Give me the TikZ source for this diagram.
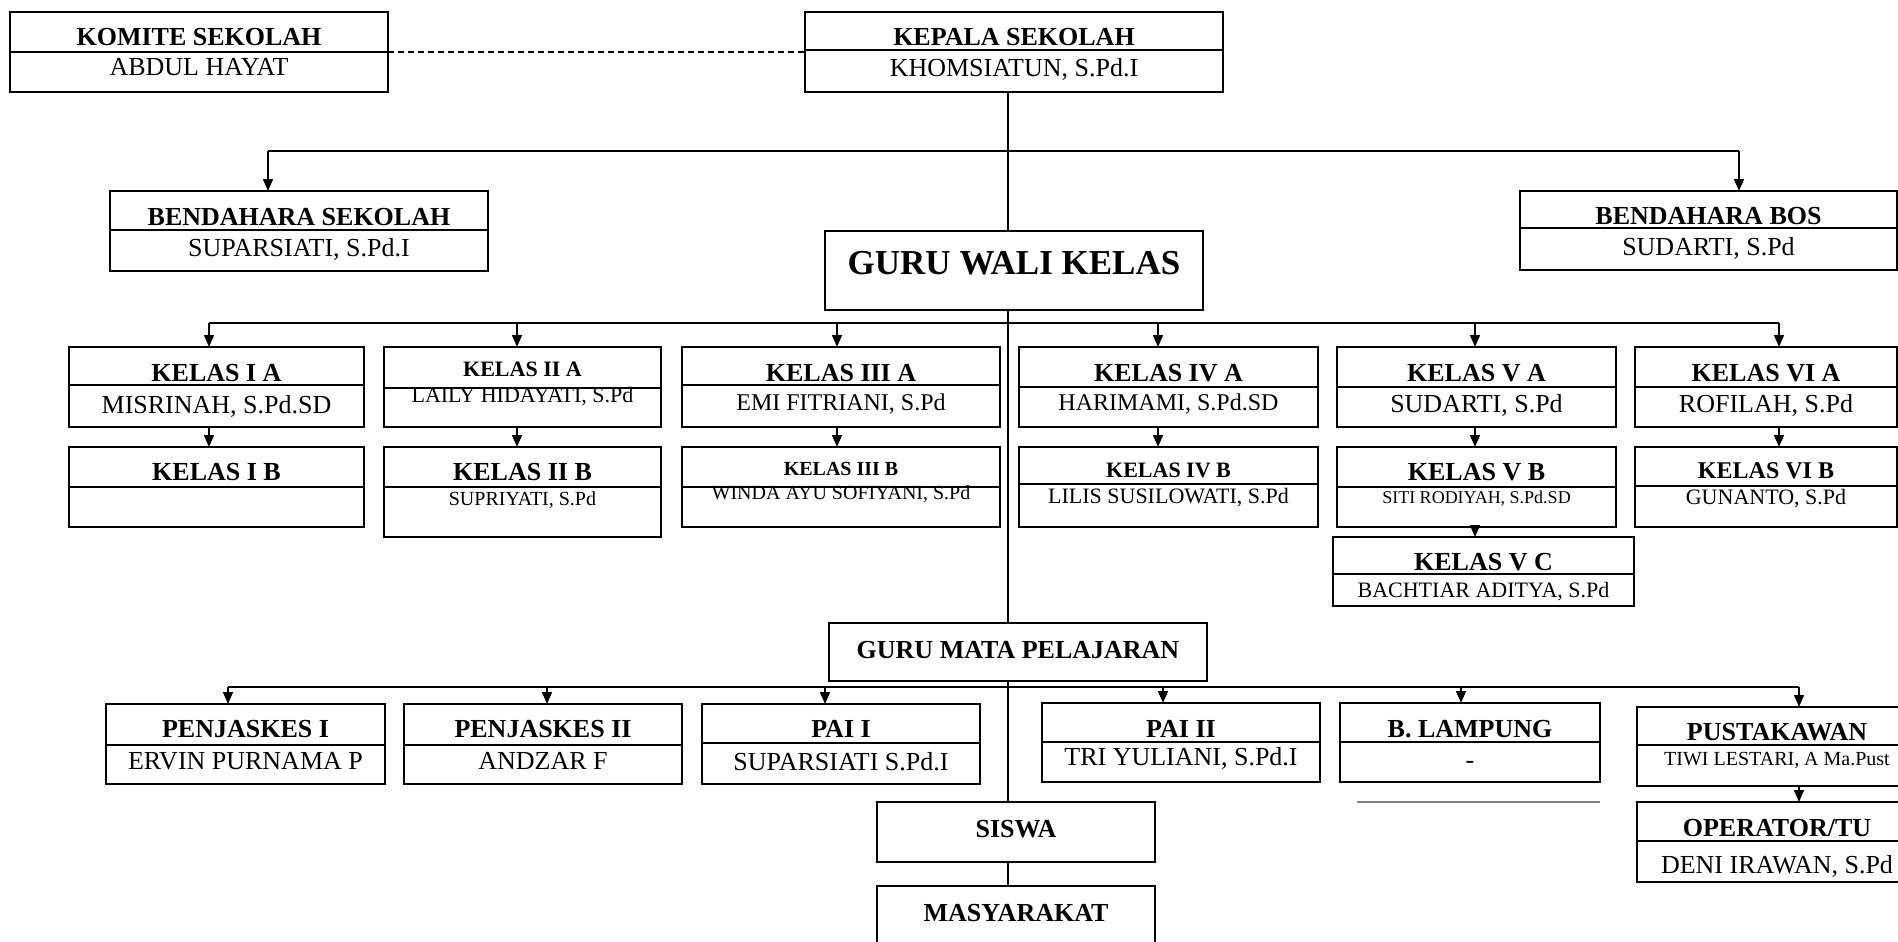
\documentclass[tikz,border=0pt]{standalone}
\usepackage{fontspec}
\setmainfont{Liberation Serif}
\usetikzlibrary{arrows.meta, positioning, fit, calc}

\begin{document}
\begin{tikzpicture}[
  x=1pt, y=-1pt,
  garis/.style={draw=black, line width=1.6pt},
  panah/.style={garis, -{Triangle[length=12pt, width=10pt]}},
  kotak/.style={garis, inner sep=0pt, outer sep=0pt},
  judul/.style={anchor=base, inner sep=0pt},
  nama/.style={anchor=base, inner sep=0pt}
]
\useasboundingbox (0,0) rectangle (1898,942);
\clip (0,0) rectangle (1898,942);

% kotak jabatan: judul di atas garis, nama di bawah
\foreach \id/\xa/\ya/\xb/\yb/\yd/\tb/\nb/\fj/\fn/\jd/\nm in {
  komite/10/12/388/92/52/46/76/26/26/{KOMITE SEKOLAH}/{ABDUL HAYAT},
  kepsek/805/12/1223/92/50/46/77/26/26/{KEPALA SEKOLAH}/{KHOMSIATUN, S.Pd.I},
  bendsek/110/191/488/271/230/225/256/26/26/{BENDAHARA SEKOLAH}/{SUPARSIATI, S.Pd.I},
  bendbos/1520/191/1897/270/228/224/255/26/26/{BENDAHARA BOS}/{SUDARTI, S.Pd},
  ka1/69/347/364/427/385/381/413/26/26/{KELAS I A}/{MISRINAH, S.Pd.SD},
  kb1/69/447/364/527/487/480/510/26/26/{KELAS I B}/{},
  ka2/384/347/661/427/388/376/402/22/22/{KELAS II A}/{LAILY HIDAYATI, S.Pd},
  kb2/384/447/661/537/487/480/505/26/20/{KELAS II B}/{SUPRIYATI, S.Pd},
  ka3/682/347/1000/427/385/381/410/26/24/{KELAS III A}/{EMI FITRIANI, S.Pd},
  kb3/682/447/1000/527/487/475/499/20/20/{KELAS III B}/{WINDA AYU SOFIYANI, S.Pd},
  ka4/1019/347/1318/427/387/381/410/26/24/{KELAS IV A}/{HARIMAMI, S.Pd.SD},
  kb4/1019/447/1318/527/484/477/503/22/22/{KELAS IV B}/{LILIS SUSILOWATI, S.Pd},
  ka5/1337/347/1616/427/387/381/412/26/26/{KELAS V A}/{SUDARTI, S.Pd},
  kb5/1337/447/1616/527/487/480/503/26/18/{KELAS V B}/{SITI RODIYAH, S.Pd.SD},
  kc5/1333/537/1634/606/574/570/597/26/22/{KELAS V C}/{BACHTIAR ADITYA, S.Pd},
  ka6/1635/347/1897/427/387/381/412/26/26/{KELAS VI A}/{ROFILAH, S.Pd},
  kb6/1635/447/1897/527/486/478/504/24/22/{KELAS VI B}/{GUNANTO, S.Pd},
  mp1/106/704/385/784/745/737/769/26/26/{PENJASKES I}/{ERVIN PURNAMA P},
  mp2/404/704/682/784/745/737/769/26/26/{PENJASKES II}/{ANDZAR F},
  mp3/702/704/980/784/743/737/770/26/26/{PAI I}/{SUPARSIATI S.Pd.I},
  mp4/1042/703/1320/782/742/737/765/26/26/{PAI II}/{TRI YULIANI, S.Pd.I},
  mp5/1340/703/1600/782/742/737/768/26/26/{B. LAMPUNG}/{-},
  mp6/1637/707/1917/786/745/740/765/26/20/{PUSTAKAWAN}/{TIWI LESTARI, A Ma.Pust},
  operator/1637/802/1917/882/841/836/873/26/26/{OPERATOR/TU}/{DENI IRAWAN, S.Pd}
}{
  \node[kotak, fit={(\xa,\ya) (\xb,\yb)}] (\id) {};
  \draw[garis] (\id.west |- 0,\yd) -- (\id.east |- 0,\yd);
  \node[judul, font=\bfseries\fontsize{\fj}{\fj}\selectfont] (\id-j) at ({(\xa+\xb)/2},\tb) {\jd};
  \node[nama, font=\fontsize{\fn}{\fn}\selectfont] (\id-n) at ({(\xa+\xb)/2},\nb) {\nm};
}

% kotak tunggal
\node[kotak, fit={(825,231) (1203,310)}] (gwk) {};
\node[judul, font=\bfseries\fontsize{35}{35}\selectfont] (gwk-j) at (1014,274) {GURU WALI KELAS};
\node[kotak, fit={(829,623) (1207,681)}] (gmp) {};
\node[judul, font=\bfseries\fontsize{26}{26}\selectfont] (gmp-j) at (1018,658) {GURU MATA PELAJARAN};
\node[kotak, fit={(877,802) (1155,862)}] (siswa) {};
\node[judul, font=\bfseries\fontsize{26}{26}\selectfont] (siswa-j) at (1016,837) {SISWA};
\node[kotak, fit={(877,886) (1155,960)}] (masyarakat) {};
\node[judul, font=\bfseries\fontsize{26}{26}\selectfont] (masyarakat-j) at (1016,921) {MASYARAKAT};

% garis komando utama
\coordinate (poros) at (1008,0);
\draw[garis, line width=1.3pt, dash pattern=on 6pt off 4pt] (komite.east) -- (kepsek.west);
\draw[garis] (kepsek.south -| poros) -- (gwk.north -| poros);
\draw[garis] (gwk.south -| poros) -- (gmp.north -| poros);
\draw[garis] (gmp.south -| poros) -- (siswa.north -| poros);
\draw[garis] (siswa.south -| poros) -- (masyarakat.north -| poros);

% bendahara
\coordinate (b1) at (268,151);
\coordinate (b2) at (1739,151);
\draw[garis] (b1) -- (b2);
\draw[panah] (b1) -- (bendsek.north -| b1);
\draw[panah] (b2) -- (bendbos.north -| b2);

% wali kelas
\foreach \i/\x in {1/209,2/517,3/837,4/1158,5/1475,6/1779}
  \coordinate (w\i) at (\x,323);
\draw[garis] (w1) -- (w6);
\foreach \i in {1,...,6}{
  \draw[panah] (w\i) -- (ka\i.north -| w\i);
  \draw[panah] (ka\i.south -| w\i) -- (kb\i.north -| w\i);
}
\draw[panah] (kb5.south -| w5) -- (kc5.north -| w5);

% mata pelajaran
\foreach \i/\x in {1/228,2/547,3/825,4/1163,5/1461,6/1799}
  \coordinate (m\i) at (\x,687);
\draw[garis] (m1) -- (m6);
\foreach \i in {1,...,6}
  \draw[panah] (m\i) -- (mp\i.north -| m\i);
\draw[panah] (mp6.south -| m6) -- (operator.north -| m6);

\draw[draw=gray, line width=1.6pt] (1357,802) -- (mp5.south east |- 0,802);
\end{tikzpicture}
\end{document}
